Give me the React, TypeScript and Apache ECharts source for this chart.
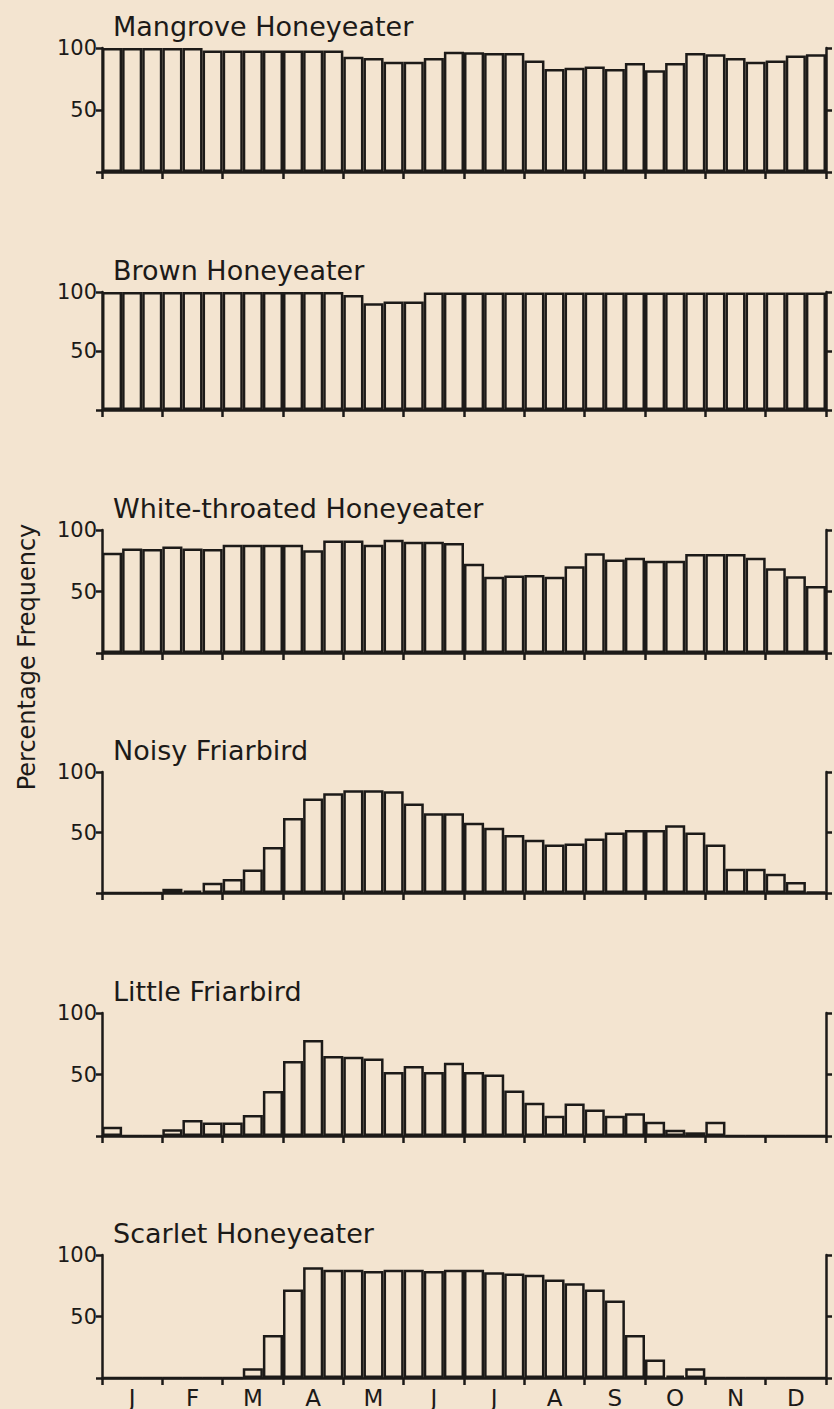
import React, { useEffect, useRef } from "react";
import * as echarts from "echarts";

const monthNames = ["Jan", "Feb", "Mar", "Apr", "May", "Jun", "Jul", "Aug", "Sep", "Oct", "Nov", "Dec"];
const thirds = ["a", "b", "c"];
const periods = monthNames.flatMap((m) => thirds.map((t) => `${m}-${t}`));

const speciesNames = [
  "Mangrove Honeyeater",
  "Brown Honeyeater",
  "White-throated Honeyeater",
  "Noisy Friarbird",
  "Little Friarbird",
  "Scarlet Honeyeater",
];

const mangrove = [100, 100, 100, 100, 100, 98, 98, 98, 98, 98, 98, 98, 93, 92, 89, 89, 92, 97, 96.5, 96, 96, 90, 83, 84, 85, 83, 88, 82, 88, 96, 95, 92, 89, 90, 94, 95];
const brown = [100, 100, 100, 100, 100, 100, 100, 100, 100, 100, 100, 100, 97.5, 90.5, 92, 92, 99.5, 99.5, 99.5, 99.5, 99.5, 99.5, 99.5, 99.5, 99.5, 99.5, 99.5, 99.5, 99.5, 99.5, 99.5, 99.5, 99.5, 99.5, 99.5, 99.5];
const whiteThroated = [81.5, 85, 84.5, 86.5, 85, 84.5, 88, 88, 88, 88, 83.5, 91.5, 91.5, 88, 92, 90.5, 90.5, 89.5, 72.5, 62, 63, 63.5, 62, 70.5, 81, 76, 77.5, 75, 75, 80.5, 80.5, 80.5, 77.5, 69, 62.5, 54.5];
const noisy = [0, 0, 0, 3.5, 2, 8.5, 11.5, 19.5, 38, 62, 78, 82.5, 85, 85, 84, 74, 66, 66, 58, 54, 48, 44, 40, 41, 45, 50, 52, 52, 56, 50, 40, 20, 20, 16, 9, 1];
const little = [7.5, 0, 0, 5.5, 13, 11, 11, 17, 36.5, 61, 78, 65, 64.5, 63, 52, 57, 52, 59.5, 52, 50, 37, 27, 16.5, 26.5, 21.5, 16.5, 18.5, 11.5, 5, 3, 11.5, 0, 0, 0, 0, 0];
const scarlet = [0, 0, 0, 0, 0, 0, 0, 8, 35, 72, 90, 88, 88, 87, 88, 88, 87, 88, 88, 86, 85, 84, 80, 77, 72, 63, 35, 15, 2, 8, 0, 0, 0, 0, 0, 0];

const seriesData = [mangrove, brown, whiteThroated, noisy, little, scarlet];

const gridTops = [48, 292, 530, 772, 1013, 1255];
const gridBottoms = [172, 410, 653, 893, 1136, 1378];

const INK = "#1c1a18";
const FONT = "DejaVu Sans";

export default function App() {
  const ref = useRef<HTMLDivElement>(null);

  useEffect(() => {
    document.body.style.margin = "0";
    const chart = echarts.init(ref.current!, null, { renderer: "svg" });
    const grids: any[] = [];
    const xAxes: any[] = [];
    const yAxes: any[] = [];
    const series: any[] = [];
    const graphics: any[] = [];

    seriesData.forEach((data, g) => {
      grids.push({ left: 102, right: 8, top: gridTops[g], height: gridBottoms[g] - gridTops[g] });
      xAxes.push({
        type: "category",
        gridIndex: g,
        data: periods,
        show: false,
        boundaryGap: true,
      });
      xAxes.push({
        type: "category",
        gridIndex: g,
        data: monthNames,
        position: "bottom",
        boundaryGap: true,
        axisLine: { show: true, lineStyle: { color: INK, width: 2.5 } },
        axisTick: { show: true, length: 7, inside: false, lineStyle: { color: INK, width: 2.5 } },
        axisLabel: {
          show: g === 5,
          formatter: (v: string) => v.charAt(0),
          color: INK,
          fontSize: 23,
          fontFamily: FONT,
          margin: 8,
        },
        splitLine: { show: false },
      });
      const yCommon = {
        type: "value",
        gridIndex: g,
        min: 0,
        max: 100,
        interval: 50,
        splitLine: { show: false },
        axisLine: { show: true, lineStyle: { color: INK, width: 2.5 } },
        axisTick: { show: true, length: 6, inside: false, lineStyle: { color: INK, width: 2.5 } },
      };
      yAxes.push({
        ...yCommon,
        position: "left",
        axisLabel: {
          formatter: (v: number) => (v === 0 ? "" : String(v)),
          color: INK,
          fontSize: 21,
          fontFamily: FONT,
          margin: 5,
        },
      });
      yAxes.push({
        ...yCommon,
        position: "right",
        axisLabel: { show: false },
      });
      series.push({
        type: "bar",
        xAxisIndex: 2 * g,
        yAxisIndex: 2 * g,
        data,
        barCategoryGap: "0%",
        barGap: "0%",
        silent: true,
        itemStyle: { color: "rgba(0,0,0,0)", borderColor: INK, borderWidth: 2.5 },
      });
      graphics.push({
        type: "text",
        x: 113,
        y: gridTops[g] - 22,
        style: {
          text: speciesNames[g],
          fontSize: 27,
          fontFamily: FONT,
          fill: INK,
          textAlign: "left",
          textVerticalAlign: "middle",
        },
      });
    });

    graphics.push({
      type: "text",
      x: 27,
      y: 657,
      rotation: Math.PI / 2,
      style: {
        text: "Percentage Frequency",
        fontSize: 24,
        fontFamily: FONT,
        fill: INK,
        textAlign: "center",
        textVerticalAlign: "middle",
      },
    });

    chart.setOption({
      animation: false,
      backgroundColor: "#f3e4d0",
      grid: grids,
      xAxis: xAxes,
      yAxis: yAxes,
      series,
      graphic: graphics,
    });
    return () => chart.dispose();
  }, []);

  return <div ref={ref} style={{ width: 834, height: 1409 }} />;
}
